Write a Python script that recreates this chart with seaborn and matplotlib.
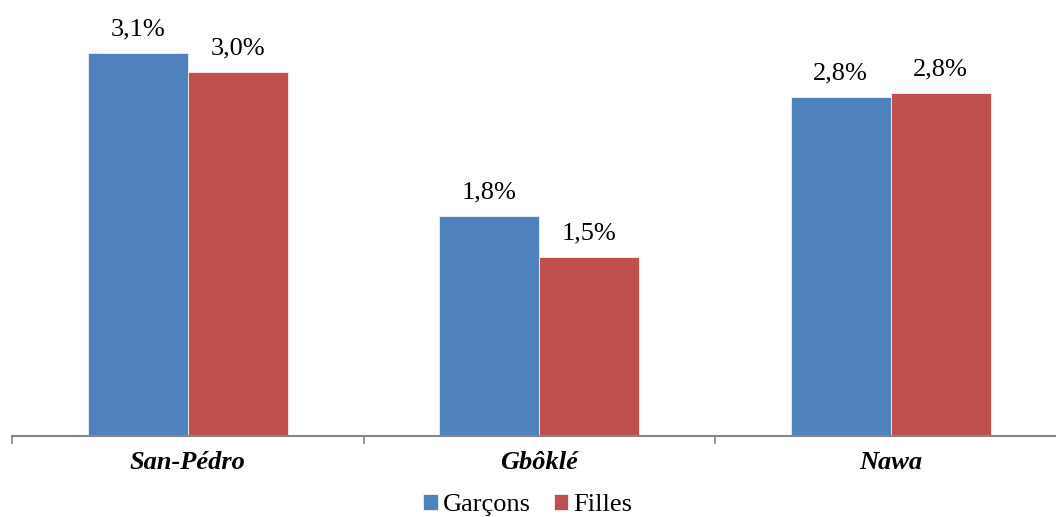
import matplotlib
matplotlib.use("Agg")
import matplotlib.pyplot as plt
import seaborn as sns
import pandas as pd

# Données
regions = ["San-Pédro", "Gbôklé", "Nawa"]
garcons = [3.13, 1.80, 2.77]
filles = [2.97, 1.46, 2.80]
sexes = ["Garçons", "Filles"]
couleurs = ["#4F81BD", "#C0504D"]

df = pd.DataFrame({
    "region": regions * 2,
    "sexe": [sexes[0]] * 3 + [sexes[1]] * 3,
    "taux": garcons + filles,
})

sns.set_style("white", {"text.color": "black", "xtick.color": "black"})
plt.rcParams["font.family"] = ["Liberation Serif", "DejaVu Serif"]

fig = plt.figure(figsize=(10.56, 5.17), dpi=100)
# la zone du graphique depasse a droite (coupee dans l'original)
ax = fig.add_axes([12 / 1056, 81 / 517, 3 * 351.5 / 1056, 436 / 517])

sns.barplot(data=df, x="region", y="taux", hue="sexe", palette=couleurs,
            width=0.569, gap=0, saturation=1, linewidth=0.6, edgecolor="#f2f2f2",
            legend=True, ax=ax)

# etiquettes de valeurs avec virgule
for cont in ax.containers:
    labels = [f"{b.get_height():.1f}%".replace(".", ",") for b in cont]
    ax.bar_label(cont, labels=labels, padding=9, fontsize=19, color="black")

ax.set_xlim(-0.5, 2.5)
ax.set_ylim(0, 436 / 122.5)
ax.set_xlabel("")
ax.set_ylabel("")
ax.set_yticks([])

for s in ["top", "right", "left"]:
    ax.spines[s].set_visible(False)
ax.spines["bottom"].set_color("#868686")
ax.spines["bottom"].set_linewidth(1.5)

ax.set_xticks([-0.5, 0.5, 1.5, 2.5], minor=True)
ax.tick_params(axis="x", which="minor", length=6, width=1.2, color="#868686", direction="out", bottom=True)
ax.tick_params(axis="x", which="major", length=0, pad=11, labelcolor="black")
for t in ax.get_xticklabels():
    t.set_fontsize(19)
    t.set_fontweight("bold")
    t.set_fontstyle("italic")

ax.get_legend().remove()
leg = fig.legend(*ax.get_legend_handles_labels(), loc="center", bbox_to_anchor=(0.5, 12 / 517),
                 ncol=2, frameon=False, fontsize=19, handlelength=0.55, handleheight=0.55,
                 handletextpad=0.2, columnspacing=0.85, borderaxespad=0)
for t in leg.get_texts():
    t.set_color("black")

fig.savefig("out.png", dpi=100)
